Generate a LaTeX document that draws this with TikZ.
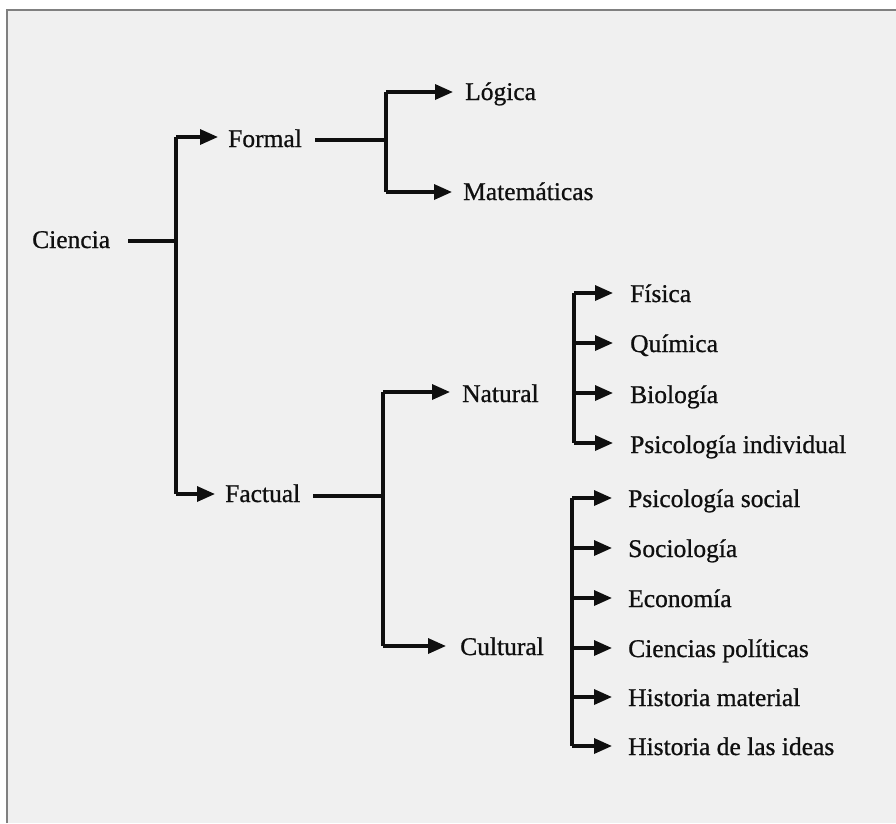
\documentclass[tikz,border=0pt]{standalone}
\usepackage{fontspec}
\setmainfont{Liberation Serif}
\newfontfamily\lblfont{Liberation Serif}[FakeBold=0.8]
\usetikzlibrary{arrows.meta}
\definecolor{paper}{RGB}{240,240,240}
\definecolor{framegray}{RGB}{128,128,128}
\definecolor{ink}{RGB}{15,15,15}
\begin{document}
\begin{tikzpicture}[x=1pt,y=-1pt,
  lbl/.style={anchor=base west,inner sep=0pt,text=ink,font=\lblfont\fontsize{25.5}{30}\selectfont},
  ln/.style={draw=ink,line width=3.3pt},
  arr/.style={draw=ink,line width=3.3pt,-{Triangle[length=18pt,width=15pt]}}]
\useasboundingbox (0,0) rectangle (896,823);
\fill[white] (0,0) rectangle (896,823);
\fill[paper] (7,10) rectangle (896,823);
\draw[framegray,line width=2pt] (7,823) -- (7,10) -- (896,10);

% labels
\node[lbl] (ciencia) at (32,248) {Ciencia};
\node[lbl] (formal) at (228,147) {Formal};
\node[lbl] (logica) at (465,100) {Lógica};
\node[lbl] (mate) at (463,200) {Matemáticas};
\node[lbl] (factual) at (225,502) {Factual};
\node[lbl] (natural) at (462,402) {Natural};
\node[lbl] (cultural) at (460,655) {Cultural};
\node[lbl] (fisica) at (630,302) {Física};
\node[lbl] (quimica) at (630,352) {Química};
\node[lbl] (biologia) at (630,403) {Biología};
\node[lbl] (psiind) at (630,453) {Psicología individual};
\node[lbl] (psisoc) at (628,507) {Psicología social};
\node[lbl] (socio) at (628,557) {Sociología};
\node[lbl] (eco) at (628,607) {Economía};
\node[lbl] (cpol) at (628,657) {Ciencias políticas};
\node[lbl] (hmat) at (628,706) {Historia material};
\node[lbl] (hideas) at (628,755) {Historia de las ideas};

% junction points
\coordinate (c0) at (176,241);
\coordinate (c1) at (176,137);
\coordinate (c2) at (176,494);
\coordinate (f0) at (386,140);
\coordinate (f1) at (386,92);
\coordinate (f2) at (386,192);
\coordinate (t0) at (383,496);
\coordinate (t1) at (383,392);
\coordinate (t2) at (383,646);
\coordinate (n1) at (574,293);
\coordinate (n2) at (574,343);
\coordinate (n3) at (574,393);
\coordinate (n4) at (574,443);
\coordinate (k1) at (572,498);
\coordinate (k2) at (572,548);
\coordinate (k3) at (572,598);
\coordinate (k4) at (572,648);
\coordinate (k5) at (572,697);
\coordinate (k6) at (572,746);

% Ciencia
\draw[ln] (128,241) -- (c0);
\draw[ln] (c1) -- (c2);
\draw[arr,shorten >=10pt] (c1) -- (c1 -| formal.west);
\draw[arr,shorten >=10pt] (c2) -- (c2 -| factual.west);

% Formal
\draw[ln] (315,140) -- (f0);
\draw[ln] (f1) -- (f2);
\draw[arr,shorten >=12pt] (f1) -- (f1 -| logica.west);
\draw[arr,shorten >=11pt] (f2) -- (f2 -| mate.west);

% Factual
\draw[ln] (313,496) -- (t0);
\draw[ln] (t1) -- (t2);
\draw[arr,shorten >=12pt] (t1) -- (t1 -| natural.west);
\draw[arr,shorten >=14pt] (t2) -- (t2 -| cultural.west);

% Natural
\draw[ln] (n1) -- (n4);
\draw[arr,shorten >=17pt] (n1) -- (n1 -| fisica.west);
\draw[arr,shorten >=17pt] (n2) -- (n2 -| quimica.west);
\draw[arr,shorten >=17pt] (n3) -- (n3 -| biologia.west);
\draw[arr,shorten >=17pt] (n4) -- (n4 -| psiind.west);

% Cultural
\draw[ln] (k1) -- (k6);
\draw[arr,shorten >=16pt] (k1) -- (k1 -| psisoc.west);
\draw[arr,shorten >=16pt] (k2) -- (k2 -| socio.west);
\draw[arr,shorten >=16pt] (k3) -- (k3 -| eco.west);
\draw[arr,shorten >=16pt] (k4) -- (k4 -| cpol.west);
\draw[arr,shorten >=16pt] (k5) -- (k5 -| hmat.west);
\draw[arr,shorten >=16pt] (k6) -- (k6 -| hideas.west);
\end{tikzpicture}
\end{document}
